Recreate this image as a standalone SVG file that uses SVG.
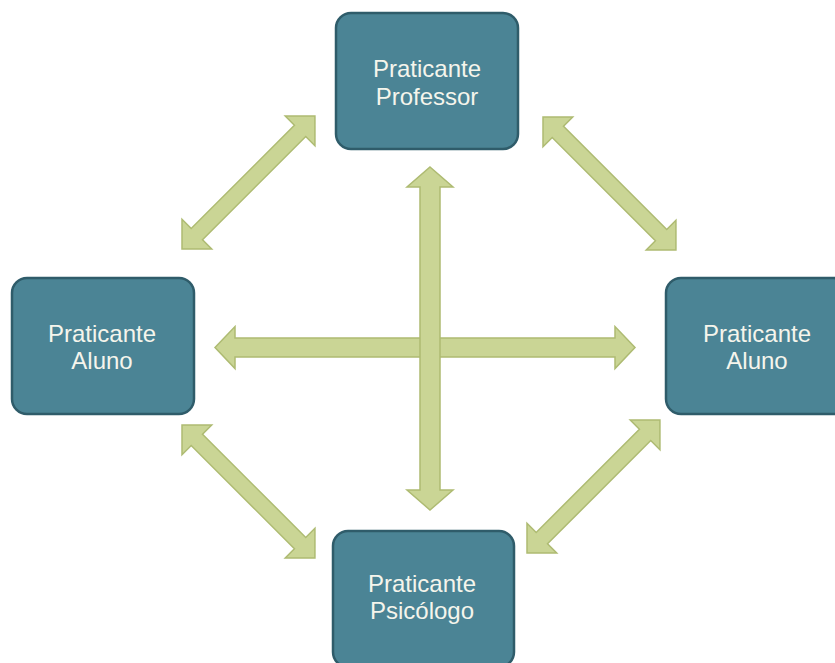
<svg xmlns="http://www.w3.org/2000/svg" width="835" height="663" viewBox="0 0 835 663">
  <style>
    .node rect { fill: #4b8495; stroke: #2f5c6a; stroke-width: 2.5; }
    .node text { fill: #f5f5ec; font-family: "Liberation Sans", Arial, sans-serif; font-size: 24px; text-anchor: middle; }
    .arrow { fill: #cad595; stroke: #aebb72; stroke-width: 1.5; stroke-linejoin: miter; }
  </style>
  <rect width="835" height="663" fill="#ffffff"/>
  <defs>
    <polygon id="diag" points="0,0 21,-21 21,-8 167,-8 167,-21 188,0 167,21 167,8 21,8 21,21"/>
  </defs>
  <g id="connectors">
    <polygon class="arrow" transform="translate(215,347.5)" points="0,0 20,-21 20,-9.5 400,-9.5 400,-21 420,0 400,21 400,9.5 20,9.5 20,21"/>
    <polygon class="arrow" transform="translate(430,167) rotate(90)" points="0,0 20,-23 20,-10 323,-10 323,-23 343,0 323,23 323,10 20,10 20,23"/>
    <use class="arrow" href="#diag" transform="translate(182,249) rotate(-45)"/>
    <use class="arrow" href="#diag" transform="translate(543,117) rotate(45)"/>
    <use class="arrow" href="#diag" transform="translate(182,425) rotate(45)"/>
    <use class="arrow" href="#diag" transform="translate(527,553) rotate(-45)"/>
  </g>
  <g id="node-professor" class="node">
    <rect x="336" y="13" width="182" height="136" rx="15"/>
    <text x="427" y="77">Praticante</text>
    <text x="427" y="105">Professor</text>
  </g>
  <g id="node-aluno-left" class="node">
    <rect x="12" y="278" width="182" height="136" rx="15"/>
    <text x="102" y="342">Praticante</text>
    <text x="102" y="369">Aluno</text>
  </g>
  <g id="node-aluno-right" class="node">
    <rect x="666" y="278" width="182" height="136" rx="15"/>
    <text x="757" y="342">Praticante</text>
    <text x="757" y="369">Aluno</text>
  </g>
  <g id="node-psicologo" class="node">
    <rect x="333" y="531" width="181" height="136" rx="15"/>
    <text x="422" y="592">Praticante</text>
    <text x="422" y="619">Psicólogo</text>
  </g>
</svg>
